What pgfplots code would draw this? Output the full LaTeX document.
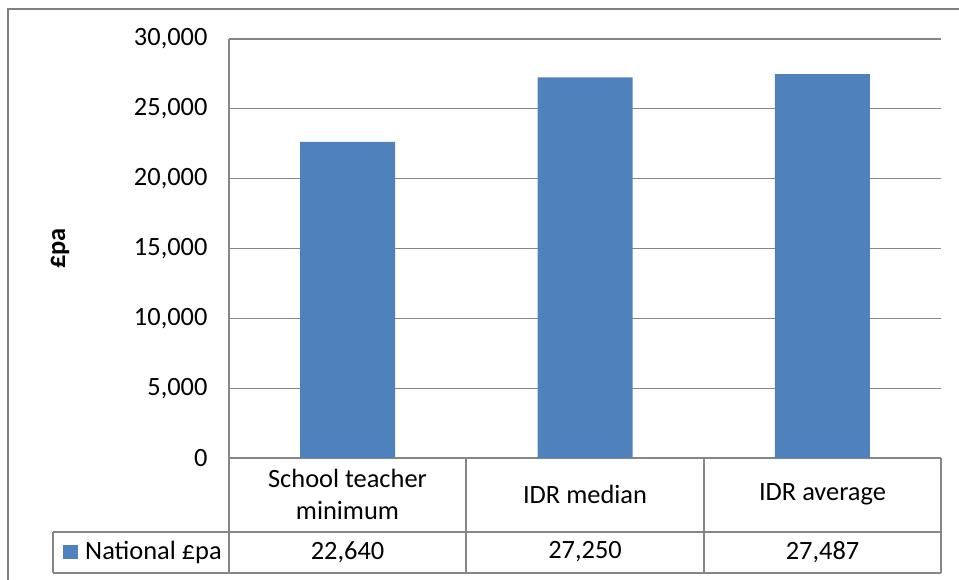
\documentclass[border=0pt]{standalone}
\usepackage{fontspec}
\setmainfont{Carlito}
\usepackage{pgfplots}
\usepackage{pgfplotstable}
\pgfplotsset{compat=1.18}
\definecolor{barblue}{RGB}{79,129,189}
\definecolor{gridgray}{RGB}{134,134,134}
\definecolor{framegray}{RGB}{128,128,128}

% National salary per annum, by category
\pgfplotstableread{
idx value
0 22640
1 27250
2 27487
}\salary

\newcommand{\chartfont}{\fontsize{26.5}{32}\selectfont}
\newcommand{\printvalue}[1]{%
  \pgfplotstablegetelem{#1}{value}\of\salary
  \pgfmathprintnumber[fixed, 1000 sep={,}, assume math mode=true]{\pgfplotsretval}}

\begin{document}
\begin{tikzpicture}[x=1bp, y=1bp, font=\chartfont]
\useasboundingbox (0,0) rectangle (959,580);
% chart area frame
\begin{scope}
  \clip (0,0) rectangle (959,580);
  \draw[framegray, line width=2bp] (8,571) rectangle (1000,-30);
\end{scope}

\begin{axis}[
  at={(229bp,122bp)}, anchor=south west,
  scale only axis, width=712bp, height=419bp,
  xmin=-0.5, xmax=2.5, ymin=0, ymax=30000,
  xtick=\empty,
  ytick={0,5000,...,30000},
  scaled y ticks=false,
  axis x line*=bottom, axis y line*=left,
  axis line style={gridgray, line width=1.3bp, -},
  ymajorgrids, grid style={gridgray, line width=1.3bp},
  major tick length=0pt,
  tick label style={font=\chartfont, text=black},
  yticklabel style={xshift=-18bp, /pgf/number format/fixed, /pgf/number format/1000 sep={,}, /pgf/number format/assume math mode=true},
  ylabel={\textbf{£pa}},
  every axis y label/.style={at={(axis description cs:-0.2374,0.5)}, anchor=center, rotate=90, font=\chartfont},
  clip=false,
]
\addplot[ybar, bar width=95bp, fill=barblue, draw=none] table[x=idx, y=value]{\salary};
\end{axis}

% data table below the plot
\begin{scope}[gridgray, line width=1.3bp]
  \draw (229,122) -- (229,7);
  \draw (466,122) -- (466,7);
  \draw (704,122) -- (704,7);
  \draw (941,122) -- (941,7);
  \draw (53,48) -- (941,48);
  \draw (53,7) -- (941,7);
  \draw (53,48) -- (53,7);
\end{scope}

\node[align=center] at (347.5,86) {School teacher\\minimum};
\node at (585,86) {IDR median};
\node at (822.5,86) {IDR average};

\fill[barblue] (63,21) rectangle (78,35);
\node[anchor=west, inner sep=0pt] at (85,28) {National £pa};

\node at (347.5,28) {\printvalue{0}};
\node at (585,28) {\printvalue{1}};
\node at (822.5,28) {\printvalue{2}};
\end{tikzpicture}
\end{document}
